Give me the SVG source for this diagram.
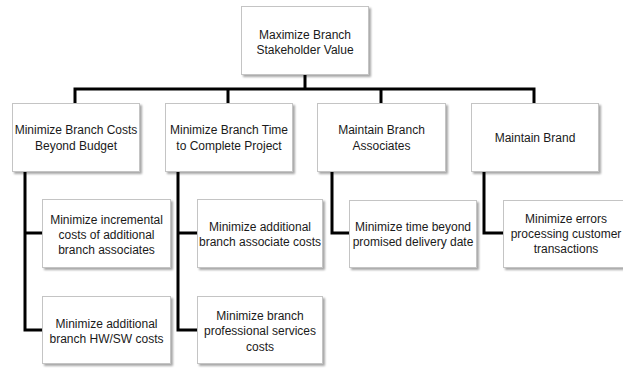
<svg xmlns="http://www.w3.org/2000/svg" width="623" height="368" viewBox="0 0 623 368">
  <defs>
    <filter id="shadow" x="-10%" y="-10%" width="130%" height="140%">
      <feGaussianBlur in="SourceAlpha" stdDeviation="1.2"/>
      <feOffset dx="2" dy="2" result="off"/>
      <feComponentTransfer><feFuncA type="linear" slope="0.35"/></feComponentTransfer>
      <feMerge><feMergeNode/><feMergeNode in="SourceGraphic"/></feMerge>
    </filter>
  </defs>
  <style>
    .box { fill: #ffffff; stroke: #c4c4c4; stroke-width: 1; filter: url(#shadow); }
    .lbl { font-family: "Liberation Sans", Arial, sans-serif; font-size: 12px; fill: #1a1a1a; text-anchor: middle; }
    .wire { fill: none; stroke: #000000; stroke-width: 3; stroke-linejoin: miter; }
  </style>
  <rect width="623" height="368" fill="#ffffff"/>

  <!-- connectors -->
  <g id="connectors">
    <path class="wire" d="M305,74 V89"/>
    <path class="wire" d="M75,103 V89 H534 V103"/>
    <path class="wire" d="M228,89 V103"/>
    <path class="wire" d="M381,89 V103"/>
    <path class="wire" d="M42,330 H25 V171"/>
    <path class="wire" d="M25,233 H42"/>
    <path class="wire" d="M197,330 H178 V171"/>
    <path class="wire" d="M178,233 H197"/>
    <path class="wire" d="M332,171 V233 H349"/>
    <path class="wire" d="M484,171 V233 H503"/>
  </g>

  <!-- root -->
  <g id="root">
    <rect class="box" x="241.5" y="6.5" width="127" height="68"/>
    <text class="lbl" x="305" y="39">Maximize Branch</text>
    <text class="lbl" x="305" y="54">Stakeholder Value</text>
  </g>

  <!-- first level -->
  <g id="costs">
    <rect class="box" x="12.5" y="103.5" width="127" height="68"/>
    <text class="lbl" x="76" y="134">Minimize Branch Costs</text>
    <text class="lbl" x="76" y="150">Beyond Budget</text>
  </g>
  <g id="time">
    <rect class="box" x="165.5" y="103.5" width="127" height="68"/>
    <text class="lbl" x="229" y="134">Minimize Branch Time</text>
    <text class="lbl" x="229" y="150">to Complete Project</text>
  </g>
  <g id="associates">
    <rect class="box" x="317.5" y="103.5" width="128" height="68"/>
    <text class="lbl" x="381.5" y="134">Maintain Branch</text>
    <text class="lbl" x="381.5" y="150">Associates</text>
  </g>
  <g id="brand">
    <rect class="box" x="471.5" y="103.5" width="127" height="68"/>
    <text class="lbl" x="535" y="142">Maintain Brand</text>
  </g>

  <!-- second level -->
  <g id="incremental">
    <rect class="box" x="42.5" y="199.5" width="128" height="68"/>
    <text class="lbl" x="106.5" y="224">Minimize incremental</text>
    <text class="lbl" x="106.5" y="239">costs of additional</text>
    <text class="lbl" x="106.5" y="254">branch associates</text>
  </g>
  <g id="hwsw">
    <rect class="box" x="42.5" y="296.5" width="128" height="67"/>
    <text class="lbl" x="106.5" y="328">Minimize additional</text>
    <text class="lbl" x="106.5" y="343">branch HW/SW costs</text>
  </g>
  <g id="assoc-costs">
    <rect class="box" x="197.5" y="199.5" width="125" height="68"/>
    <text class="lbl" x="260" y="231">Minimize additional</text>
    <text class="lbl" x="260" y="246">branch associate costs</text>
  </g>
  <g id="services">
    <rect class="box" x="197.5" y="296.5" width="125" height="67"/>
    <text class="lbl" x="260" y="320">Minimize branch</text>
    <text class="lbl" x="260" y="335">professional services</text>
    <text class="lbl" x="260" y="351">costs</text>
  </g>
  <g id="delivery">
    <rect class="box" x="349.5" y="200.5" width="127" height="67"/>
    <text class="lbl" x="413" y="231">Minimize time beyond</text>
    <text class="lbl" x="413" y="246">promised delivery date</text>
  </g>
  <g id="errors">
    <rect class="box" x="503.5" y="200.5" width="127" height="67"/>
    <text class="lbl" x="566" y="223">Minimize errors</text>
    <text class="lbl" x="566" y="238">processing customer</text>
    <text class="lbl" x="566" y="253">transactions</text>
  </g>
</svg>
